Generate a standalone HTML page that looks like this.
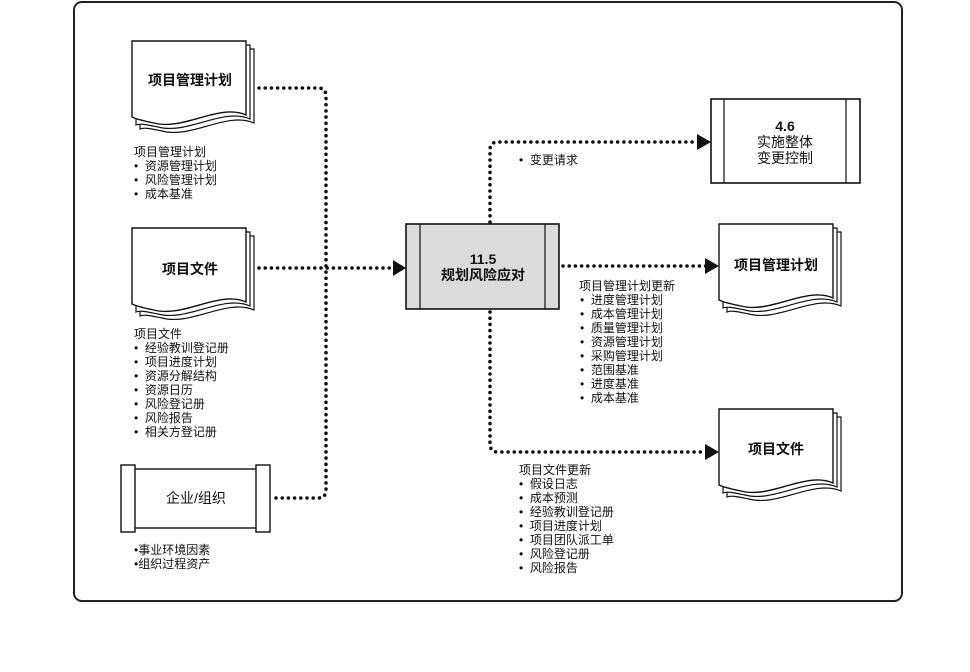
<!DOCTYPE html>
<html><head><meta charset="utf-8"><style>
html,body{margin:0;padding:0;background:#fff;}
svg{display:block;}
text{font-family:"Liberation Sans","Noto Sans CJK SC",sans-serif;fill:#111;}
.t{font-size:12px;}
.b{font-size:14px;font-weight:bold;}
.d{fill:none;stroke:#111;stroke-width:3.6;stroke-dasharray:0 6.2;stroke-linecap:round;}
</style></head><body>
<svg width="970" height="672" viewBox="0 0 970 672" xmlns="http://www.w3.org/2000/svg">
<defs>
<g id="doc">
  <path d="M8,8 H122 V82 C95,70 60,98 30,90 C20,88 12,86 8,88 Z" fill="#fff" stroke="#111" stroke-width="1.2"/>
  <path d="M4,4 H118 V78 C91,66 56,94 26,86 C16,84 8,82 4,84 Z" fill="#fff" stroke="#111" stroke-width="1.2"/>
  <path d="M0,0 H114 V74 C87,62 52,90 22,82 C12,80 4,78 0,76 Z" fill="#fff" stroke="#111" stroke-width="1.4"/>
</g>
</defs>
<rect x="74" y="2" width="828" height="599" rx="8" fill="#fff" stroke="#222" stroke-width="2"/>

<path class="d" d="M259,88 H318 Q326,88 326,96 V490 Q326,498 318,498 H272"/>
<path class="d" d="M259,268 H394"/>
<path class="d" d="M490,222 V150 Q490,142 498,142 H698"/>
<path class="d" d="M563,266 H706"/>
<path class="d" d="M490,312 V444 Q490,452 498,452 H706"/>
<polygon points="393,260 406,268 393,276" fill="#111"/>
<polygon points="697,134 711,142 697,150" fill="#111"/>
<polygon points="705,258 719,266 705,274" fill="#111"/>
<polygon points="705,444 719,452 705,460" fill="#111"/>

<use href="#doc" x="132" y="41"/>
<text class="b" x="190" y="85" text-anchor="middle">项目管理计划</text>
<use href="#doc" x="132" y="228"/>
<text class="b" x="190" y="274" text-anchor="middle">项目文件</text>
<use href="#doc" x="719" y="224"/>
<text class="b" x="776" y="270" text-anchor="middle">项目管理计划</text>
<use href="#doc" x="719" y="409"/>
<text class="b" x="776" y="454" text-anchor="middle">项目文件</text>

<rect x="128" y="469" width="135" height="59" fill="#fff" stroke="#111" stroke-width="1.4"/>
<rect x="121" y="465" width="14" height="67" fill="#fff" stroke="#111" stroke-width="1.4"/>
<rect x="256" y="465" width="14" height="67" fill="#fff" stroke="#111" stroke-width="1.4"/>
<text x="196" y="503" text-anchor="middle" style="font-size:14px">企业/组织</text>

<rect x="406" y="224" width="153" height="85" fill="#dcdcdc" stroke="#111" stroke-width="1.6"/>
<line x1="420" y1="224" x2="420" y2="309" stroke="#111" stroke-width="1.2"/>
<line x1="545" y1="224" x2="545" y2="309" stroke="#111" stroke-width="1.2"/>
<text class="b" x="483" y="264" text-anchor="middle">11.5</text>
<text class="b" x="483" y="280" text-anchor="middle">规划风险应对</text>

<rect x="711" y="99" width="149" height="84" fill="#fff" stroke="#111" stroke-width="1.6"/>
<line x1="724" y1="99" x2="724" y2="183" stroke="#111" stroke-width="1.2"/>
<line x1="846" y1="99" x2="846" y2="183" stroke="#111" stroke-width="1.2"/>
<text class="b" x="785" y="131" text-anchor="middle">4.6</text>
<text x="785" y="147" text-anchor="middle" style="font-size:14px">实施整体</text>
<text x="785" y="163" text-anchor="middle" style="font-size:14px">变更控制</text>

<g class="t">
<text x="134" y="156">项目管理计划</text>
<text x="134" y="170">•&#160;&#160;资源管理计划</text>
<text x="134" y="184">•&#160;&#160;风险管理计划</text>
<text x="134" y="198">•&#160;&#160;成本基准</text>

<text x="134" y="338">项目文件</text>
<text x="134" y="352">•&#160;&#160;经验教训登记册</text>
<text x="134" y="366">•&#160;&#160;项目进度计划</text>
<text x="134" y="380">•&#160;&#160;资源分解结构</text>
<text x="134" y="394">•&#160;&#160;资源日历</text>
<text x="134" y="408">•&#160;&#160;风险登记册</text>
<text x="134" y="422">•&#160;&#160;风险报告</text>
<text x="134" y="436">•&#160;&#160;相关方登记册</text>

<text x="134" y="554">•事业环境因素</text>
<text x="134" y="568">•组织过程资产</text>

<text x="519" y="164">•&#160;&#160;变更请求</text>

<text x="579" y="290">项目管理计划更新</text>
<text x="580" y="304">•&#160;&#160;进度管理计划</text>
<text x="580" y="318">•&#160;&#160;成本管理计划</text>
<text x="580" y="332">•&#160;&#160;质量管理计划</text>
<text x="580" y="346">•&#160;&#160;资源管理计划</text>
<text x="580" y="360">•&#160;&#160;采购管理计划</text>
<text x="580" y="374">•&#160;&#160;范围基准</text>
<text x="580" y="388">•&#160;&#160;进度基准</text>
<text x="580" y="402">•&#160;&#160;成本基准</text>

<text x="519" y="474">项目文件更新</text>
<text x="519" y="488">•&#160;&#160;假设日志</text>
<text x="519" y="502">•&#160;&#160;成本预测</text>
<text x="519" y="516">•&#160;&#160;经验教训登记册</text>
<text x="519" y="530">•&#160;&#160;项目进度计划</text>
<text x="519" y="544">•&#160;&#160;项目团队派工单</text>
<text x="519" y="558">•&#160;&#160;风险登记册</text>
<text x="519" y="572">•&#160;&#160;风险报告</text>
</g>
</svg>
</body></html>
